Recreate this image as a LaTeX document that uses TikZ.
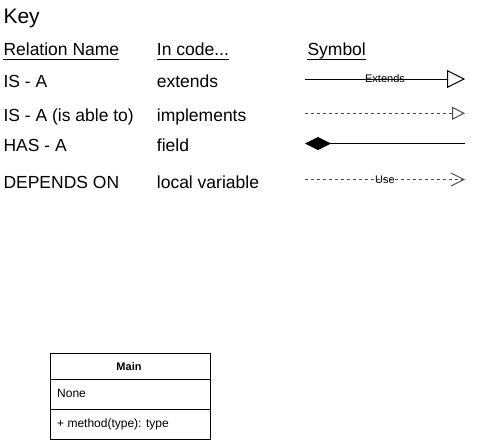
\documentclass[tikz,border=0pt]{standalone}
\usepackage{fontspec}
\setmainfont{Liberation Sans}
\usetikzlibrary{arrows.meta}
\tikzset{
  txt/.style={inner sep=0pt, anchor=base west, font=\fontsize{17.5}{20}\selectfont},
  hdr/.style={txt},
  lbl/.style={inner sep=0pt, font=\fontsize{11}{13}\selectfont},
  conn/.style={line width=1pt, draw=black},
  dsh/.style={conn, dash pattern=on 3pt off 3pt, draw=black!70},
  cls/.style={inner sep=0pt, font=\fontsize{12}{14}\selectfont},
}
\begin{document}
\begin{tikzpicture}[x=1pt,y=-1pt]
\useasboundingbox (0,0) rectangle (492,442);
\node[txt, font=\fontsize{21}{24}\selectfont] (key) at (3.3,23.3) {Key};
% headers
\node[hdr] (h1) at (3.3,55) {Relation Name};
\node[hdr] (h2) at (156.7,55) {In code...};
\node[hdr] (h3) at (307.3,55) {Symbol};
\foreach \n in {h1,h2,h3}{\draw[line width=1pt] ([yshift=-4.5pt]\n.base west) -- ([yshift=-4.5pt]\n.base east);}
% rows
\node[txt] (r1) at (3.3,87) {IS - A};
\node[txt] (c1) at (156.7,87) {extends};
\node[txt] (r2) at (3.3,121.7) {IS - A (is able to)};
\node[txt] (c2) at (156.7,121.7) {implements};
\node[txt] (r3) at (3.3,151.7) {HAS - A};
\node[txt] (c3) at (156.7,151.7) {field};
\node[txt] (r4) at (3.3,188.3) {DEPENDS ON};
\node[txt] (c4) at (156.7,188.3) {local variable};
% symbols
\coordinate (e1) at (305,79);  \coordinate (e2) at (465,79);
\coordinate (i1) at (305,113.3); \coordinate (i2) at (465,113.3);
\coordinate (a1) at (305,143.5); \coordinate (a2) at (465,143.5);
\coordinate (u1) at (305,179.5); \coordinate (u2) at (465,179.5);
\draw[conn, -{Triangle[open,length=18pt,width=18pt,line width=1pt]}] (e1) -- (e2)
  node[lbl, pos=0.5] (el) {Extends};
\draw[dsh, -{Triangle[open,length=13pt,width=13pt,line width=1pt]}] (i1) -- (i2);
\draw[conn, {Diamond[length=26pt,width=13pt]}-] (a1) -- (a2);
\draw[dsh, -{Straight Barb[length=13pt,width=13pt,line width=1pt]}] (u1) -- (u2)
  node[lbl, pos=0.5] (ul) {Use};
% class box
\node[draw, line width=1pt, minimum width=160pt, minimum height=86pt, inner sep=0pt] (main) at (130,396) {};
\coordinate (s1) at (50,379.5); \coordinate (s1e) at (210,379.5);
\coordinate (s2) at (50,409.5); \coordinate (s2e) at (210,409.5);
\draw[line width=1pt] (s1) -- (s1e);
\draw[line width=1pt] (s2) -- (s2e);
\node[cls, font=\fontsize{11}{13}\selectfont\bfseries] (mt) at (129,366.5) {Main};
\node[cls, anchor=west] (mf) at (57,393.5) {None};
\node[cls, anchor=west] (mm) at (57,424.5) {+ method(type): type};
\end{tikzpicture}
\end{document}
